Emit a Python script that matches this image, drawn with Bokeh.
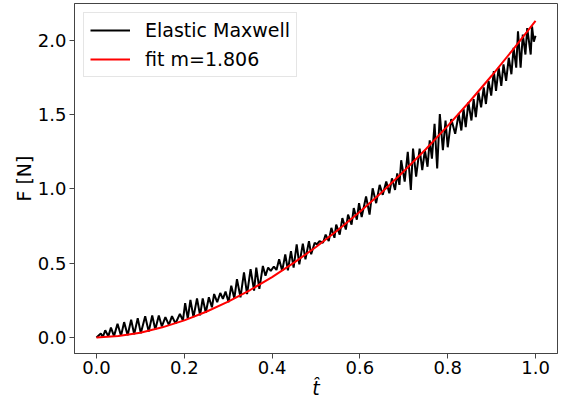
from bokeh.plotting import figure
from bokeh.models import Range1d, FixedTicker, Legend, LegendItem
from bokeh.embed import file_html
from bokeh.resources import INLINE

# --- data ---
t_sim = [0.000, 0.010, 0.0145, 0.020, 0.027, 0.033, 0.040, 0.048, 0.056, 0.063,
         0.071, 0.079, 0.086, 0.094, 0.101, 0.111, 0.119, 0.127, 0.134, 0.142,
         0.149, 0.157, 0.165, 0.172, 0.180, 0.190, 0.197, 0.202, 0.208, 0.214,
         0.221, 0.229, 0.236, 0.242, 0.249, 0.256, 0.263, 0.268, 0.275, 0.282,
         0.288, 0.294, 0.301, 0.307, 0.314, 0.320, 0.328, 0.336, 0.343, 0.351,
         0.359, 0.364, 0.371, 0.379, 0.385, 0.391, 0.397, 0.404, 0.410, 0.416,
         0.423, 0.430, 0.436, 0.443, 0.449, 0.456, 0.462, 0.470, 0.476, 0.484,
         0.489, 0.497, 0.502, 0.508, 0.516, 0.522, 0.529, 0.535, 0.542, 0.546,
         0.554, 0.560, 0.568, 0.573, 0.581, 0.586, 0.593, 0.598, 0.604, 0.614,
         0.622, 0.629, 0.637, 0.645, 0.652, 0.660, 0.667, 0.673, 0.680, 0.685,
         0.690, 0.694, 0.702, 0.709, 0.716, 0.721, 0.728, 0.736, 0.742, 0.748,
         0.754, 0.759, 0.764, 0.770, 0.776, 0.782, 0.789, 0.795, 0.800, 0.808,
         0.817, 0.825, 0.831, 0.836, 0.841, 0.847, 0.854, 0.859, 0.864, 0.870,
         0.876, 0.882, 0.887, 0.893, 0.899, 0.905, 0.910, 0.916, 0.922, 0.927,
         0.933, 0.939, 0.945, 0.950, 0.956, 0.960, 0.966, 0.971, 0.977, 0.981,
         0.989, 0.992, 0.996, 1.000]
f_sim = [0.000, 0.027, 0.004, 0.049, 0.008, 0.067, 0.010, 0.093, 0.012, 0.104,
         0.016, 0.120, 0.022, 0.131, 0.030, 0.144, 0.040, 0.149, 0.055, 0.149,
         0.075, 0.138, 0.085, 0.144, 0.095, 0.160, 0.115, 0.232, 0.127, 0.253,
         0.138, 0.264, 0.149, 0.264, 0.167, 0.271, 0.204, 0.293, 0.238, 0.300,
         0.260, 0.309, 0.238, 0.349, 0.264, 0.393, 0.271, 0.438, 0.293, 0.460,
         0.316, 0.471, 0.327, 0.482, 0.416, 0.471, 0.449, 0.478, 0.455, 0.527,
         0.449, 0.560, 0.453, 0.582, 0.471, 0.627, 0.493, 0.631, 0.527, 0.649,
         0.560, 0.638, 0.627, 0.649, 0.638, 0.693, 0.649, 0.738, 0.671, 0.760,
         0.693, 0.804, 0.727, 0.827, 0.760, 0.871, 0.793, 0.904, 0.810, 0.949,
         0.827, 1.004, 0.904, 1.027, 0.960, 1.049, 0.971, 1.071, 0.993, 1.104,
         1.027, 1.193, 1.049, 1.249, 0.993, 1.271, 1.082, 1.271, 1.127, 1.260,
         1.149, 1.327, 1.204, 1.438, 1.138, 1.504, 1.260, 1.460, 1.280, 1.470,
         1.371, 1.504, 1.393, 1.538, 1.416, 1.582, 1.460, 1.604, 1.482, 1.649,
         1.549, 1.682, 1.571, 1.727, 1.627, 1.793, 1.660, 1.816, 1.693, 1.838,
         1.727, 1.882, 1.771, 1.949, 1.816, 2.060, 1.816, 2.038, 1.904, 2.082,
         1.904, 2.093, 1.990, 2.030]

t_fit = [0.00, 0.05, 0.10, 0.15, 0.20, 0.25, 0.30, 0.35, 0.40, 0.45, 0.50,
         0.55, 0.60, 0.65, 0.70, 0.75, 0.80, 0.85, 0.90, 0.95, 1.00]
f_fit = [0.000, 0.010, 0.033, 0.069, 0.116, 0.174, 0.242, 0.320, 0.407, 0.504, 0.609,
         0.724, 0.847, 0.978, 1.119, 1.267, 1.424, 1.588, 1.761, 1.942, 2.130]

x_ticks = [0.0, 0.2, 0.4, 0.6, 0.8, 1.0]
x_tick_labels = ["0.0", "0.2", "0.4", "0.6", "0.8", "1.0"]
y_ticks = [0.0, 0.5, 1.0, 1.5, 2.0]
y_tick_labels = ["0.0", "0.5", "1.0", "1.5", "2.0"]

series_names = ["Elastic Maxwell", "fit m=1.806"]
x_label = "t\u0302"
y_label = "F [N]"

FONT = "DejaVu Sans"
FRAME = "#444444"

p = figure(width=566, height=401, output_backend="svg", toolbar_location=None,
           x_range=Range1d(-0.05, 1.05), y_range=Range1d(-0.107, 2.247),
           min_border_left=74, min_border_right=9, min_border_top=3,
           min_border_bottom=46)
p.background_fill_color = "white"
p.border_fill_color = "white"
p.outline_line_color = FRAME
p.outline_line_width = 1
p.xgrid.visible = False
p.ygrid.visible = False

r_sim = p.line(t_sim, f_sim, line_color="black", line_width=2)
r_fit = p.line(t_fit, f_fit, line_color="red", line_width=2)

for ax, ticks, labels in ((p.xaxis[0], x_ticks, x_tick_labels),
                          (p.yaxis[0], y_ticks, y_tick_labels)):
    ax.ticker = FixedTicker(ticks=ticks)
    ax.major_label_overrides = {t: l for t, l in zip(ticks, labels)}
    ax.minor_tick_line_color = None
    ax.major_tick_in = 0
    ax.major_tick_out = 5
    ax.major_tick_line_color = FRAME
    ax.axis_line_color = FRAME
    ax.major_label_text_font = FONT
    ax.major_label_text_font_size = "18px"
    ax.major_label_text_color = "black"
    ax.major_label_text_line_height = 1.0
    ax.axis_label_text_font = FONT
    ax.axis_label_text_font_size = "19px"
    ax.axis_label_text_color = "black"
    ax.axis_label_text_font_style = "normal"
    ax.axis_label_text_line_height = 0.85

p.xaxis.axis_label = x_label
p.xaxis.axis_label_text_font_style = "italic"
p.xaxis.major_label_standoff = 2
p.xaxis.axis_label_standoff = 0
p.yaxis.axis_label = y_label
p.yaxis.major_label_standoff = 3
p.yaxis.axis_label_standoff = 0

legend = Legend(items=[LegendItem(label=series_names[0], renderers=[r_sim]),
                       LegendItem(label=series_names[1], renderers=[r_fit])],
                location="top_left")
legend.margin = 9
legend.padding = 6
legend.spacing = 7
legend.glyph_width = 40
legend.glyph_height = 22
legend.label_height = 22
legend.label_standoff = 15
legend.label_text_font = FONT
legend.label_text_font_size = "19px"
legend.label_text_color = "black"
legend.border_line_color = "#cccccc"
legend.border_line_width = 1
legend.background_fill_alpha = 0.8
p.add_layout(legend)

open("out.html", "w").write(file_html(p, INLINE))
